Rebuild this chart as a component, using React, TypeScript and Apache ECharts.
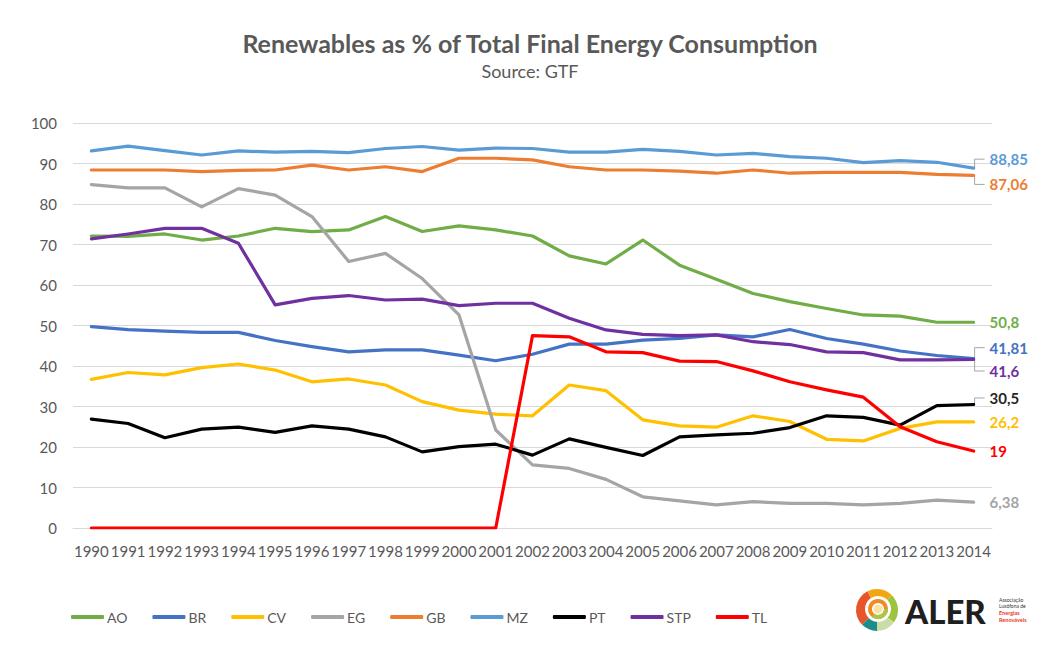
import React, { useEffect, useRef } from "react";
import * as echarts from "echarts";

const years = [
  "1990", "1991", "1992", "1993", "1994", "1995", "1996", "1997", "1998", "1999",
  "2000", "2001", "2002", "2003", "2004", "2005", "2006", "2007", "2008", "2009",
  "2010", "2011", "2012", "2013", "2014",
];

const AO = [72.1, 72.0, 72.6, 71.1, 72.1, 74.0, 73.2, 73.6, 76.9, 73.2, 74.6, 73.6, 72.1, 67.2, 65.2, 71.1, 64.9, 61.4, 57.9, 55.9, 54.2, 52.6, 52.3, 50.8, 50.8];
const BR = [49.7, 49.0, 48.6, 48.3, 48.3, 46.3, 44.8, 43.5, 44.0, 44.0, 42.7, 41.3, 42.9, 45.4, 45.4, 46.4, 46.8, 47.7, 47.2, 49.0, 46.8, 45.4, 43.7, 42.6, 41.81];
const CV = [36.7, 38.4, 37.8, 39.6, 40.5, 39.0, 36.1, 36.8, 35.3, 31.2, 29.1, 28.1, 27.7, 35.3, 33.9, 26.7, 25.2, 24.9, 27.7, 26.3, 21.9, 21.5, 24.6, 26.2, 26.2];
const EG = [84.8, 84.0, 84.0, 79.3, 83.8, 82.2, 76.9, 65.8, 67.8, 61.6, 52.6, 24.2, 15.6, 14.7, 12.0, 7.7, 6.7, 5.7, 6.5, 6.1, 6.1, 5.7, 6.1, 6.9, 6.38];
const GB = [88.4, 88.4, 88.4, 88.0, 88.3, 88.4, 89.6, 88.4, 89.2, 88.0, 91.3, 91.3, 90.9, 89.2, 88.4, 88.4, 88.1, 87.6, 88.4, 87.6, 87.8, 87.8, 87.8, 87.3, 87.06];
const MZ = [93.1, 94.3, 93.2, 92.1, 93.1, 92.8, 93.0, 92.7, 93.7, 94.2, 93.3, 93.8, 93.7, 92.8, 92.8, 93.5, 93.0, 92.1, 92.5, 91.7, 91.3, 90.2, 90.7, 90.3, 88.85];
const PT = [26.9, 25.8, 22.3, 24.4, 24.9, 23.6, 25.2, 24.4, 22.5, 18.8, 20.1, 20.7, 18.0, 22.0, 19.9, 17.9, 22.5, 23.0, 23.4, 24.8, 27.7, 27.3, 25.4, 30.2, 30.5];
const STP = [71.4, 72.6, 74.0, 74.0, 70.3, 55.1, 56.7, 57.4, 56.3, 56.5, 54.9, 55.5, 55.5, 51.8, 48.9, 47.8, 47.5, 47.7, 46.0, 45.3, 43.5, 43.3, 41.5, 41.5, 41.6];
const TL = [0, 0, 0, 0, 0, 0, 0, 0, 0, 0, 0, 0, 47.5, 47.2, 43.5, 43.3, 41.2, 41.1, 38.8, 36.1, 34.1, 32.3, 25.0, 21.3, 19];

const seriesNames = ["AO", "BR", "CV", "EG", "GB", "MZ", "PT", "STP", "TL"];
const seriesValues = [AO, BR, CV, EG, GB, MZ, PT, STP, TL];

const yTicks = { min: 0, max: 100, interval: 10 };

const TITLE = "Renewables as % of Total Final Energy Consumption";
const SUBTITLE = "Source: GTF";

// styling (not data)
const colors: Record<string, string> = {
  AO: "#70AD47",
  BR: "#4472C4",
  CV: "#FFC000",
  EG: "#A5A5A5",
  GB: "#ED7D31",
  MZ: "#5B9BD5",
  PT: "#000000",
  STP: "#7030A0",
  TL: "#FF0000",
};
const labelColors: Record<string, string> = {
  AO: "#70AD47",
  BR: "#4472C4",
  CV: "#FFC000",
  EG: "#A5A5A5",
  GB: "#ED7D31",
  MZ: "#5B9BD5",
  PT: "#262626",
  STP: "#7030A0",
  TL: "#FF0000",
};
const labelShift: Record<string, number> = {
  AO: 0, BR: -11, CV: 0, EG: 0, GB: 9, MZ: -9, PT: -6.5, STP: 11.5, TL: 0,
};

const FONT = "Lato, 'Noto Sans', sans-serif";
const TEXT = "#595959";

export default function App() {
  const ref = useRef<HTMLDivElement>(null);

  useEffect(() => {
    document.body.style.margin = "0";
    if (!ref.current) return;
    const chart = echarts.init(ref.current, undefined, { renderer: "svg" });

    const series = seriesNames.map((name, i) => ({
      name,
      type: "line",
      data: seriesValues[i],
      symbol: "none",
      showSymbol: false,
      z: 2 + i,
      lineStyle: { color: colors[name], width: 3.2, cap: "round", join: "round" },
      itemStyle: { color: colors[name] },
      endLabel: {
        show: true,
        distance: 16,
        offset: [0, labelShift[name]],
        formatter: (p: any) => String(p.value).replace(".", ","),
        color: labelColors[name],
        fontFamily: FONT,
        fontSize: 15,
        fontWeight: "bold",
      },
    }));

    const option: any = {
      animation: false,
      backgroundColor: "#ffffff",
      textStyle: { fontFamily: FONT },
      grid: { left: 73, right: 50, top: 123, bottom: 118, containLabel: false },
      legend: {
        data: seriesNames,
        left: 66,
        top: 605,
        icon: "roundRect",
        itemWidth: 33,
        itemHeight: 4,
        itemGap: 25,
        textStyle: { color: TEXT, fontSize: 14, fontFamily: FONT, padding: [0, 0, 0, -2] },
      },
      xAxis: {
        type: "category",
        data: years,
        boundaryGap: true,
        axisTick: { show: false },
        axisLine: { show: true, lineStyle: { color: "#d9d9d9", width: 1 } },
        axisLabel: { interval: 0, color: TEXT, fontSize: 15, fontFamily: FONT, margin: 15 },
      },
      yAxis: {
        type: "value",
        min: yTicks.min,
        max: yTicks.max,
        interval: yTicks.interval,
        axisLine: { show: false },
        axisTick: { show: false },
        splitLine: { lineStyle: { color: "#d9d9d9", width: 1 } },
        axisLabel: { color: TEXT, fontSize: 15, fontFamily: FONT, margin: 16 },
      },
      series,
    };

    chart.setOption(option);

    // leader lines for labels moved off their line ends
    const leaders: any[] = [];
    seriesNames.forEach((name, i) => {
      const dy = labelShift[name];
      if (!dy) return;
      const vals = seriesValues[i];
      const last = vals.length - 1;
      const pt = chart.convertToPixel({ gridIndex: 0 }, [last, vals[last]]) as number[];
      const x0 = pt[0] + 1;
      const y0 = pt[1];
      const y1 = y0 + dy;
      leaders.push({
        type: "polyline",
        shape: { points: [[x0, y0], [x0, y1], [x0 + 10, y1]] },
        style: { stroke: "#a6a6a6", lineWidth: 1, fill: null },
        silent: true,
        z: 1,
      });
    });

    const logoCx = 877;
    const logoCy = 610;
    const logo: any[] = [
      { type: "sector", shape: { cx: logoCx, cy: logoCy, r: 21, r0: 0, startAngle: Math.PI * 0.75, endAngle: Math.PI * 1.35 }, style: { fill: "#E9552B" } },
      { type: "sector", shape: { cx: logoCx, cy: logoCy, r: 21, r0: 0, startAngle: Math.PI * 1.35, endAngle: Math.PI * 1.75 }, style: { fill: "#F3A614" } },
      { type: "sector", shape: { cx: logoCx, cy: logoCy, r: 21, r0: 0, startAngle: Math.PI * 1.75, endAngle: Math.PI * 2.2 }, style: { fill: "#9CC43C" } },
      { type: "sector", shape: { cx: logoCx, cy: logoCy, r: 21, r0: 0, startAngle: Math.PI * 0.2, endAngle: Math.PI * 0.5 }, style: { fill: "#C9DDA6" } },
      { type: "sector", shape: { cx: logoCx, cy: logoCy, r: 21, r0: 0, startAngle: Math.PI * 0.5, endAngle: Math.PI * 0.75 }, style: { fill: "#1E8C8A" } },
      { type: "circle", shape: { cx: logoCx + 1, cy: logoCy - 1, r: 13 }, style: { fill: "#ffffff" } },
      { type: "ring", shape: { cx: logoCx + 1, cy: logoCy - 1, r: 10, r0: 6 }, style: { fill: "#F08A24" } },
      { type: "sector", shape: { cx: logoCx + 1, cy: logoCy - 1, r: 10, r0: 6, startAngle: 0, endAngle: Math.PI * 0.7 }, style: { fill: "#A8C84A" } },
      { type: "circle", shape: { cx: logoCx + 1, cy: logoCy - 1, r: 4.5 }, style: { fill: "#FBE3A6" } },
      {
        type: "text",
        x: 905,
        y: 611,
        style: { text: "ALER", fontFamily: FONT, fontSize: 33, fontWeight: 900, fill: "#1f1f1f", textVerticalAlign: "middle", textAlign: "left" },
      },
      { type: "text", x: 999, y: 600, style: { text: "Associação", fontSize: 5, fontFamily: FONT, fill: "#333", textVerticalAlign: "middle" } },
      { type: "text", x: 999, y: 606, style: { text: "Lusófona de", fontSize: 5, fontFamily: FONT, fill: "#333", textVerticalAlign: "middle" } },
      { type: "text", x: 999, y: 613, style: { text: "Energias", fontSize: 5.5, fontFamily: FONT, fontWeight: "bold", fill: "#E53B2C", textVerticalAlign: "middle" } },
      { type: "text", x: 999, y: 620, style: { text: "Renováveis", fontSize: 5.5, fontFamily: FONT, fontWeight: "bold", fill: "#E53B2C", textVerticalAlign: "middle" } },
    ];

    chart.setOption({
      graphic: [
        {
          type: "text",
          x: 530,
          y: 43,
          style: {
            text: TITLE,
            fontFamily: FONT,
            fontSize: 25,
            fontWeight: "bold",
            fill: TEXT,
            textAlign: "center",
            textVerticalAlign: "middle",
          },
        },
        {
          type: "text",
          x: 530,
          y: 71,
          style: {
            text: SUBTITLE,
            fontFamily: FONT,
            fontSize: 18,
            fill: TEXT,
            textAlign: "center",
            textVerticalAlign: "middle",
          },
        },
        ...leaders,
        ...logo,
      ],
    });

    return () => chart.dispose();
  }, []);

  return <div ref={ref} style={{ width: 1042, height: 646 }} />;
}
